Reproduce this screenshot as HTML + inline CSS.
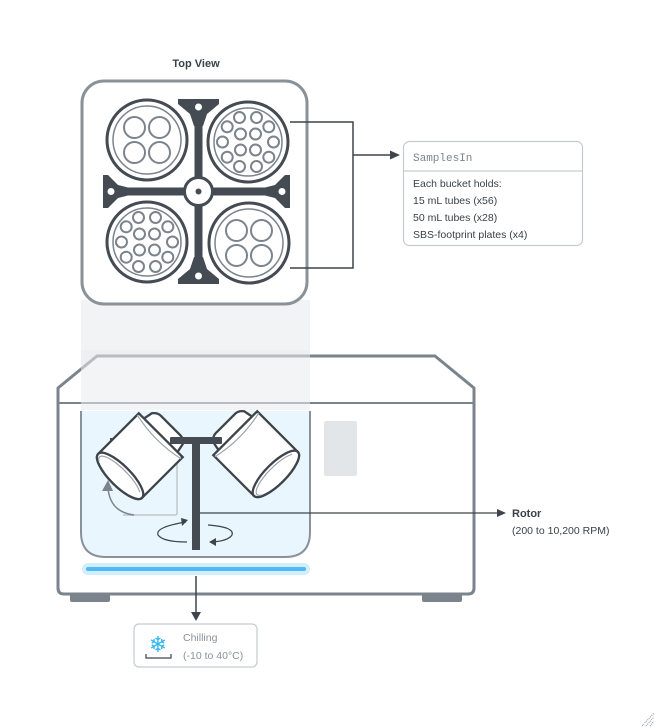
<!DOCTYPE html>
<html><head><meta charset="utf-8"><style>
html,body{margin:0;padding:0;background:#fff;}
svg{display:block;font-family:"Liberation Sans",sans-serif;}
</style></head><body>
<svg width="655" height="727" viewBox="0 0 655 727" xmlns="http://www.w3.org/2000/svg">
<defs>
<g id="b4">
 <circle r="40" fill="#fff" stroke="#444b53" stroke-width="3"/>
 <circle r="34" fill="none" stroke="#7b848c" stroke-width="1.5"/>
 <circle cx="-12.5" cy="-12.5" r="10.5" fill="none" stroke="#7b848c" stroke-width="2"/>
 <circle cx="12.5" cy="-12.5" r="10.5" fill="none" stroke="#7b848c" stroke-width="2"/>
 <circle cx="-12.5" cy="12.5" r="10.5" fill="none" stroke="#7b848c" stroke-width="2"/>
 <circle cx="12.5" cy="12.5" r="10.5" fill="none" stroke="#7b848c" stroke-width="2"/>
</g>
<g id="b14" fill="none" stroke="#7b848c" stroke-width="2">
 <circle r="40" fill="#fff" stroke="#444b53" stroke-width="3"/>
 <circle r="34" stroke-width="1.5"/>
 <circle cx="-7.5" cy="-8" r="5.5"/><circle cx="7.5" cy="-8" r="5.5"/>
 <circle cx="-7.5" cy="8" r="5.5"/><circle cx="7.5" cy="8" r="5.5"/>
 <circle cx="-8.5" cy="-24.5" r="5.5"/><circle cx="8.5" cy="-24.5" r="5.5"/>
 <circle cx="-20.8" cy="-15.2" r="5.5"/><circle cx="20.8" cy="-15.2" r="5.5"/>
 <circle cx="-25.5" cy="0" r="5.5"/><circle cx="25.5" cy="0" r="5.5"/>
 <circle cx="-20.8" cy="15.2" r="5.5"/><circle cx="20.8" cy="15.2" r="5.5"/>
 <circle cx="-8.5" cy="24.5" r="5.5"/><circle cx="8.5" cy="24.5" r="5.5"/>
</g>
<g id="bucket">
 <path d="M-19,-36 Q-16,-40 -12,-40 L12,-40 Q16,-40 19,-36 L21,-26 L-21,-26 Z" fill="#fff" stroke="#3d444b" stroke-width="2"/>
 <path d="M-27,-28 L27,-28 L27,22 A27,9 0 0 1 -27,22 Z" fill="#fff" stroke="#3d444b" stroke-width="2"/>
 <path d="M-27,-26 Q0,-20 27,-26" fill="none" stroke="#9aa1a7" stroke-width="1"/>
 <ellipse cx="0" cy="22" rx="27" ry="9" fill="#fff" stroke="#3d444b" stroke-width="2"/>
 <path d="M-22,26 A24,7 0 0 1 22,20" fill="none" stroke="#9aa1a7" stroke-width="1"/>
</g>
</defs>

<text x="196" y="67" text-anchor="middle" font-size="11" font-weight="bold" fill="#3a4148">Top View</text>

<rect x="81" y="300" width="229" height="110" fill="#e9ebed" opacity="0.6"/>

<rect x="82" y="81" width="225" height="223" rx="22" fill="#fff" stroke="#8a9299" stroke-width="3"/>
<g fill="#444b53">
 <rect x="194.5" y="100" width="8" height="183"/>
 <rect x="104" y="187.5" width="186" height="8"/>
 <path d="M178,99 L219,99 L219,104 L207,114 L203,126 L194,126 L190,114 L178,104 Z"/>
 <path d="M178,284 L219,284 L219,279 L207,269 L203,257 L194,257 L190,269 L178,279 Z"/>
 <path d="M103,175 L103,208 L108,208 L118,198 L130,195 L130,188 L118,185 L108,175 Z"/>
 <path d="M290,175 L290,208 L285,208 L275,198 L263,195 L263,188 L275,185 L285,175 Z"/>
</g>
<g fill="#fff">
 <circle cx="198.5" cy="107" r="3.5"/><circle cx="198.5" cy="276" r="3.5"/>
 <circle cx="111" cy="191.5" r="3.5"/><circle cx="282" cy="191.5" r="3.5"/>
</g>
<circle cx="198.5" cy="191.5" r="14" fill="#fff" stroke="#444b53" stroke-width="3"/>
<circle cx="198.5" cy="191.5" r="3" fill="#444b53"/>
<use href="#b4" x="147" y="140"/>
<use href="#b14" x="248" y="142"/>
<use href="#b14" x="147" y="242"/>
<use href="#b4" x="249" y="243"/>

<path d="M290,122 L353,122 L353,268 L290,268" fill="none" stroke="#3d444b" stroke-width="1.5"/>
<line x1="353" y1="155" x2="392" y2="155" stroke="#3d444b" stroke-width="1.5"/>
<path d="M400,155 L390,150.5 L390,159.5 Z" fill="#3d444b"/>

<rect x="403.5" y="141.5" width="179" height="104" rx="6" fill="#fff" stroke="#c5cad0" stroke-width="1.2"/>
<line x1="404" y1="171" x2="582" y2="171" stroke="#c5cad0" stroke-width="1.2"/>
<text x="413" y="161" font-size="11" font-family="Liberation Mono,monospace" fill="#7b848c">SamplesIn</text>
<g font-size="10.5" fill="#3a4148">
 <text x="413" y="187">Each bucket holds:</text>
 <text x="413" y="204">15 mL tubes (x56)</text>
 <text x="413" y="221">50 mL tubes (x28)</text>
 <text x="413" y="238">SBS-footprint plates (x4)</text>
</g>

<rect x="70" y="590" width="40" height="12" rx="2" fill="#7b848c"/>
<rect x="422" y="590" width="40" height="12" rx="2" fill="#7b848c"/>
<path d="M97,356 L435,356 L474,388 L474,588 Q474,594 468,594 L64,594 Q58,594 58,588 L58,388 Z" fill="#fff" stroke="#7b848c" stroke-width="3" stroke-linejoin="round"/>
<line x1="58" y1="403" x2="474" y2="403" stroke="#7b848c" stroke-width="2"/>
<rect x="81" y="350" width="229" height="60" fill="#e9ebed" opacity="0.55"/>
<path d="M81,411 L81,532 Q81,557 106,557 L285,557 Q310,557 310,532 L310,411" fill="#eaf6fd" stroke="#8a9299" stroke-width="2"/>
<rect x="324" y="421" width="33" height="55" rx="2" fill="#e3e6e9"/>
<rect x="82" y="563" width="228" height="12" rx="6" fill="#d2edfc"/>
<rect x="86" y="567" width="220" height="4" rx="2" fill="#4fb8f5"/>

<path d="M123,515 L175,515 Q177,515 177,513 L177,462" fill="none" stroke="#bfc5ca" stroke-width="1.5"/>
<rect x="110" y="438" width="20" height="5" fill="#444b53"/>
<rect x="262" y="438" width="20" height="5" fill="#444b53"/>
<use href="#bucket" transform="translate(138,458) rotate(45) scale(1.15)"/>
<use href="#bucket" transform="translate(258,456) rotate(-45) scale(1.15)"/>
<path d="M134,515 Q110,512 108,488" fill="none" stroke="#7b848c" stroke-width="1.5"/>
<path d="M108,480 L102,491 L113,491 Z" fill="#7b848c"/>
<rect x="170" y="437" width="52" height="7" rx="1" fill="#444b53"/>
<rect x="192" y="443" width="8" height="107" fill="#444b53"/>
<path d="M186,522 Q155,527 158,535 Q163,542 187,542" fill="none" stroke="#3d444b" stroke-width="1.2"/>
<path d="M188,520 L181,518 L182,526 Z" fill="#3d444b"/>
<path d="M208,525 Q235,527 232,535 Q228,541 212,542" fill="none" stroke="#3d444b" stroke-width="1.2"/>
<path d="M209,542 L216,538 L216,546 Z" fill="#3d444b"/>
<line x1="200" y1="513" x2="498" y2="513" stroke="#3d444b" stroke-width="1.2"/>
<path d="M506,513 L497,509 L497,517 Z" fill="#3d444b"/>
<text x="512" y="517" font-size="11" font-weight="bold" fill="#3a4148">Rotor</text>
<text x="512" y="534" font-size="10.5" fill="#3a4148">(200 to 10,200 RPM)</text>

<line x1="196" y1="576" x2="196" y2="614" stroke="#3d444b" stroke-width="1.5"/>
<path d="M196,621 L191,612 L201,612 Z" fill="#3d444b"/>
<rect x="134" y="624" width="123" height="43" rx="5" fill="#fff" stroke="#c5cad0" stroke-width="1.2"/>
<text x="158" y="652" text-anchor="middle" font-size="22" fill="#2bb5f0" font-family="DejaVu Sans,sans-serif">❄</text>
<path d="M146,654 L146,658 L171,658 L171,654" fill="none" stroke="#3d444b" stroke-width="1.2"/>
<text x="183" y="641" font-size="10.5" fill="#8a9299">Chilling</text>
<text x="183" y="659" font-size="10.5" fill="#8a9299">(-10 to 40°C)</text>

<g stroke="#8a9299" stroke-width="1" stroke-dasharray="1,1">
 <line x1="642" y1="726" x2="654" y2="713"/>
 <line x1="646" y1="726" x2="654" y2="717"/>
 <line x1="650" y1="726" x2="654" y2="721"/>
</g>
</svg>
</body></html>
